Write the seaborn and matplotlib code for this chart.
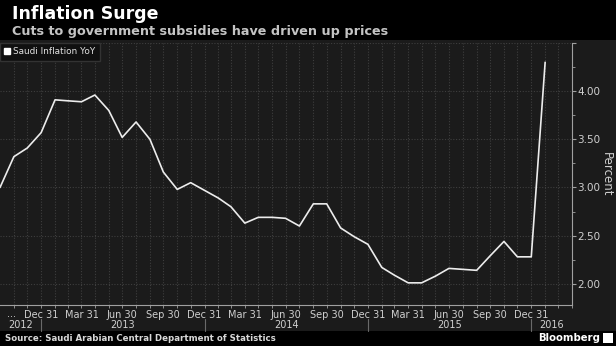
import matplotlib
matplotlib.use("Agg")
import numpy as np
import pandas as pd
import matplotlib.pyplot as plt
import matplotlib.dates as mdates
import matplotlib.transforms as mtransforms
from matplotlib.lines import Line2D
from matplotlib.patches import Rectangle
import seaborn as sns

# ---------------- data ----------------
months = pd.date_range("2012-09-01", periods=41, freq="MS") + pd.offsets.MonthEnd(0)
inflation = [3.00, 3.32, 3.41, 3.57, 3.91, 3.90, 3.89, 3.96, 3.80, 3.52,
             3.68, 3.50, 3.16, 2.98, 3.05, 2.97, 2.89, 2.80, 2.63, 2.69,
             2.69, 2.68, 2.60, 2.83, 2.83, 2.58, 2.49, 2.41, 2.17, 2.09,
             2.01, 2.01, 2.08, 2.16, 2.15, 2.14, 2.29, 2.44, 2.28, 2.28,
             4.30]
series_name = "Saudi Inflation YoY"
quarter_ticks = pd.date_range("2012-12-01", "2015-12-01", freq="3MS") + pd.offsets.MonthEnd(0)
quarter_labels = ["Dec 31", "Mar 31", "Jun 30", "Sep 30", "Dec 31", "Mar 31", "Jun 30",
                  "Sep 30", "Dec 31", "Mar 31", "Jun 30", "Sep 30", "Dec 31"]
year_labels = ["2012", "2013", "2014", "2015", "2016"]
year_bounds = ["2012-09-30", "2012-12-31", "2013-12-31", "2014-12-31", "2015-12-31", "2016-03-31"]
y_ticks = [2.0, 2.5, 3.0, 3.5, 4.0, 4.5]
y_tick_labels = ["2.00", "2.50", "3.00", "3.50", "4.00", ""]

df = pd.DataFrame({"date": months, "value": inflation})

# ---------------- style ----------------
sns.set_style("dark")
plt.rcParams["font.family"] = ["DejaVu Sans"]

W, H = 616, 346
fig = plt.figure(figsize=(W / 100, H / 100), dpi=100, facecolor="black")
# chart panel
fig.add_artist(Rectangle((0, 15 / H), 1, 291 / H, transform=fig.transFigure,
                         facecolor="#1b1b1b", edgecolor="none", zorder=0))

ax = fig.add_axes([0, 41 / H, 572 / W, 262 / H])
ax.set_facecolor("#1b1b1b")

sns.lineplot(data=df, x="date", y="value", ax=ax, color="#ececec",
             linewidth=1.2, legend=False, zorder=5)

x0, x1 = pd.Timestamp(year_bounds[0]), pd.Timestamp(year_bounds[-1])
ax.set_xlim(x0, x1)
ax.set_ylim(1.78, 4.5)

# axes / spines
for s in ["left", "top"]:
    ax.spines[s].set_visible(False)
for s in ["right", "bottom"]:
    ax.spines[s].set_color("#a0a0a0")
    ax.spines[s].set_linewidth(0.8)

ax.yaxis.tick_right()
ax.yaxis.set_label_position("right")
ax.set_yticks(y_ticks)
ax.set_yticklabels(y_tick_labels)
ax.set_yticks(np.arange(2.25, 4.5, 0.5), minor=True)
ax.tick_params(axis="y", which="major", direction="out", length=3, width=0.8,
               color="#a0a0a0", labelcolor="#d0d0d0", labelsize=7.5, pad=1,
               right=True, left=False)
ax.tick_params(axis="y", which="minor", direction="out", length=2, width=0.6,
               color="#a0a0a0", right=True, left=False)
ax.set_ylabel("Percent", rotation=270, color="#d0d0d0", fontsize=8.5, labelpad=9)

all_months = pd.date_range("2012-10-01", "2016-03-01", freq="MS") + pd.offsets.MonthEnd(0)
ax.set_xticks(quarter_ticks)
ax.set_xticklabels(quarter_labels)
ax.set_xticks(all_months, minor=True)
ax.tick_params(axis="x", which="both", direction="out", length=2, width=0.6,
               color="#a0a0a0", labelcolor="#d0d0d0", labelsize=7, pad=1.5,
               bottom=True)
ax.set_xlabel("")

# grid
grid_kw = dict(color="#3e3e3e", linestyle=(0, (1, 1.5)), linewidth=0.8)
ax.yaxis.grid(True, which="major", **grid_kw)
ax.xaxis.grid(True, which="both", **grid_kw)
ax.set_axisbelow(True)

# "..." truncated first label
trans = mtransforms.blended_transform_factory(ax.transAxes, ax.transAxes)
ax.text(12 / 572, -0.033, "...", transform=trans, ha="center", va="center",
        fontsize=7, color="#d0d0d0")

# year row
btrans = mtransforms.blended_transform_factory(ax.transData, ax.transAxes)
bounds = [mdates.date2num(pd.Timestamp(b)) for b in year_bounds]
for i, lab in enumerate(year_labels):
    xc = (bounds[i] + bounds[i + 1]) / 2
    ax.text(xc, -0.076, lab, transform=btrans, ha="center", va="center",
            fontsize=7, color="#d0d0d0")
for b in bounds[1:-1]:
    ax.plot([b, b], [-0.054, -0.098], transform=btrans, color="#6a6a6a",
            lw=0.8, clip_on=False)

# legend
handle = Line2D([], [], marker="s", linestyle="none", markersize=5,
                markerfacecolor="white", markeredgecolor="white")
leg = ax.legend([handle], [series_name], loc="upper left", bbox_to_anchor=(0, 1),
                borderaxespad=0, frameon=True, fancybox=False, fontsize=6.4,
                handlelength=0.6, handletextpad=0.4, borderpad=0.5,
                labelcolor="#e0e0e0")
leg.get_frame().set_facecolor("#101010")
leg.get_frame().set_edgecolor("#333333")
leg.get_frame().set_alpha(1)
leg.set_zorder(10)

# titles
fig.text(12 / W, 1 - 19 / H, "Inflation Surge", fontsize=12.5, fontweight="bold",
         color="white", va="baseline", ha="left")
fig.text(12 / W, 1 - 35 / H, "Cuts to government subsidies have driven up prices",
         fontsize=9.15, fontweight="bold", color="#c4c4c4", va="baseline", ha="left")

# footer
fig.text(5 / W, 1 - 338.5 / H, "Source: Saudi Arabian Central Department of Statistics",
         fontsize=6.2, fontweight="bold", color="#d8d8d8", va="center", ha="left")
fig.text(600 / W, 1 - 338 / H, "Bloomberg", fontsize=7.3, fontweight="bold",
         color="white", va="center", ha="right")
fig.add_artist(Rectangle((603 / W, 1 - 343 / H), 10 / W, 10 / H, transform=fig.transFigure,
                         facecolor="white", edgecolor="none"))

fig.savefig("out.png", dpi=100, facecolor="black")
